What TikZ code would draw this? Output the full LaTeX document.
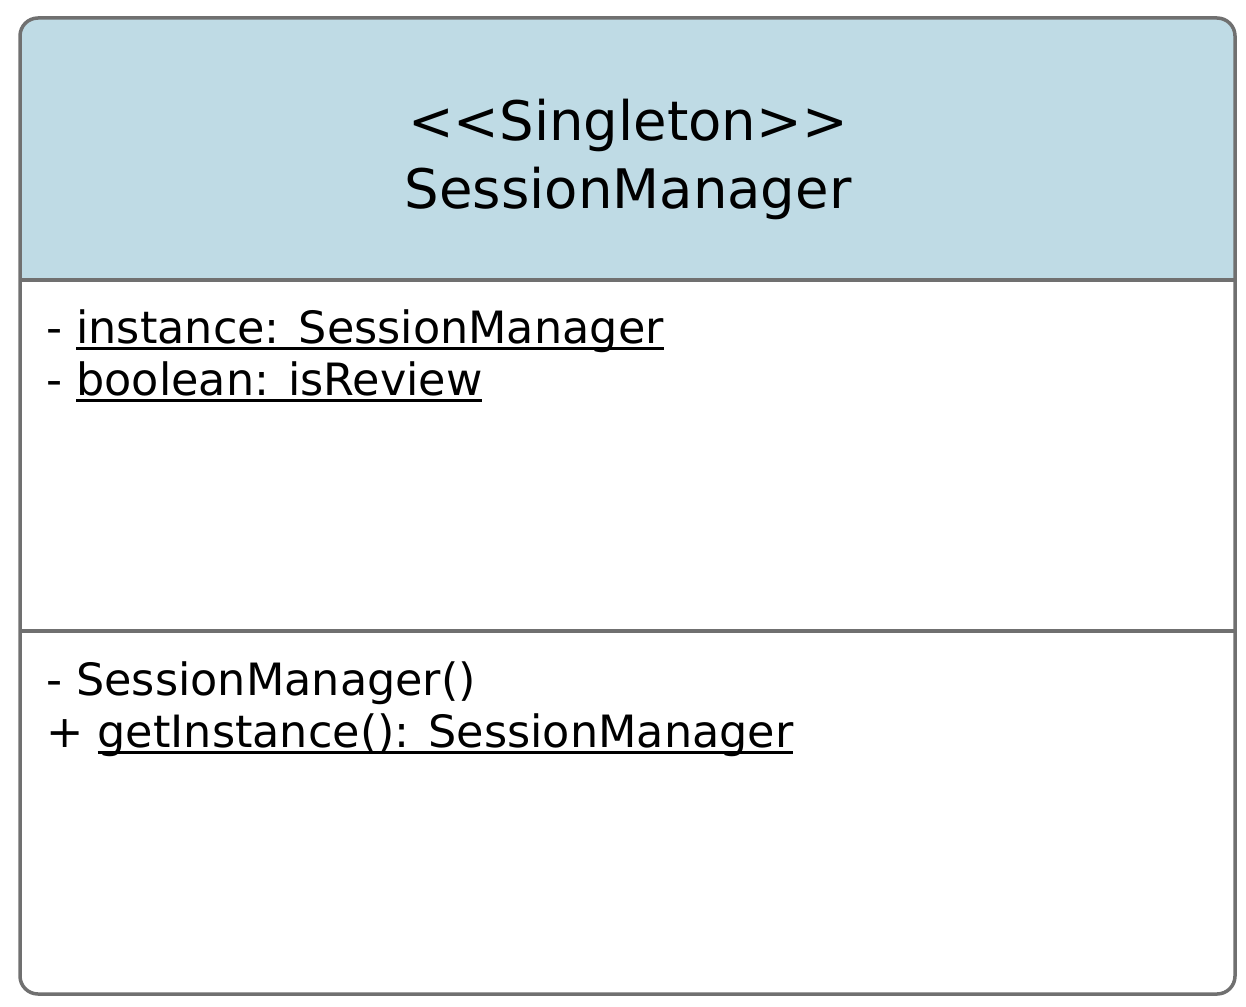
\documentclass[tikz,border=0pt]{standalone}
\usepackage{fontspec}
\setmainfont{DejaVu Sans}
\definecolor{bordergray}{HTML}{707070}
\definecolor{hdrblue}{HTML}{BFDBE5}
\newcommand\myul[1]{\setbox0\hbox{#1}\rlap{\rule[-7pt]{\wd0}{3.5pt}}\box0}
\tikzset{
  title/.style={font=\fontsize{54.5}{64}\selectfont, anchor=base, inner sep=0pt},
  member/.style={font=\fontsize{44.5}{52}\selectfont, anchor=base west, inner sep=0pt},
  frame/.style={draw=bordergray, line width=3.5pt},
}
\begin{document}
\begin{tikzpicture}[x=1pt,y=-1pt]
\useasboundingbox (0,0) rectangle (1246,1006);
\begin{scope}
  \clip[rounded corners=18pt] (20,18) rectangle (1235,994);
  \fill[hdrblue] (20,18) rectangle (1235,280);
  \fill[white] (20,280) rectangle (1235,994);
\end{scope}
\draw[frame] (20,280) -- (1235,280);
\draw[frame] (20,631) -- (1235,631);
\draw[frame, rounded corners=18pt] (20,18) rectangle (1235,994);
\node[title] (stereo) at (628,140) {<{}<Singleton>{}>};
\node[title] (name) at (628,208) {SessionManager};
\node[member] (a1) at (46,343) {- \myul{instance: SessionManager}};
\node[member] (a2) at (46,395) {- \myul{boolean: isReview}};
\node[member] (m1) at (46,695) {- SessionManager()};
\node[member] (m2) at (46,747) {+ \myul{getInstance(): SessionManager}};
\end{tikzpicture}
\end{document}
